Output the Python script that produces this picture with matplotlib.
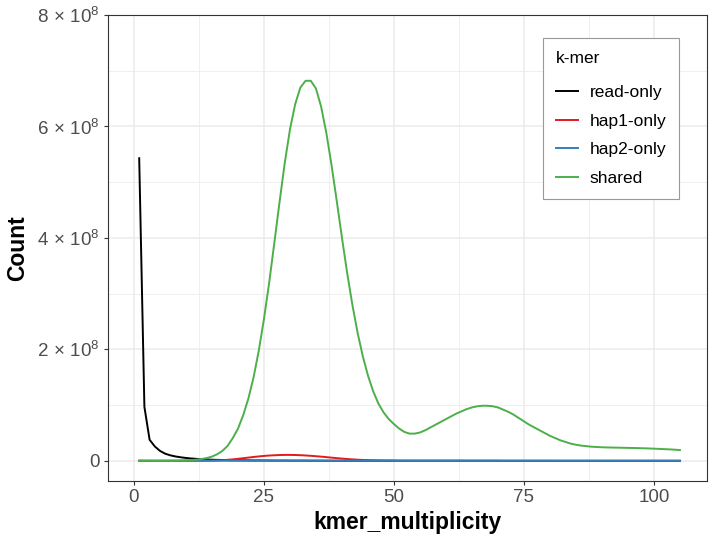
import numpy as np
import matplotlib
matplotlib.use("Agg")
import matplotlib.pyplot as plt
from matplotlib.ticker import MultipleLocator

plt.rcParams['font.family'] = ['Liberation Sans', 'DejaVu Sans']
plt.rcParams['mathtext.fontset'] = 'custom'
plt.rcParams['mathtext.rm'] = 'Liberation Sans'
plt.rcParams['mathtext.it'] = 'Liberation Sans:italic'
plt.rcParams['mathtext.bf'] = 'Liberation Sans:bold'

# k-mer multiplicity 1..105, counts in millions
multiplicity = np.arange(1, 106)

read_only = [
    543, 97, 38, 26, 18, 13, 10, 8, 6.5, 5.3,
    4.4, 3.7, 3.1, 2.6, 2.2, 1.9, 1.7, 1.5, 1.3, 1.2,
    1.1, 1.0, 0.9, 0.9, 0.8, 0.8, 0.7, 0.7, 0.7, 0.6,
    0.6, 0.6, 0.6, 0.5, 0.5, 0.5, 0.5, 0.5, 0.4, 0.4,
    0.4, 0.4, 0.4, 0.4, 0.4, 0.4, 0.4, 0.4, 0.4, 0.4,
    0.3, 0.3, 0.3, 0.3, 0.3, 0.3, 0.3, 0.3, 0.3, 0.3,
    0.3, 0.3, 0.3, 0.3, 0.3, 0.3, 0.3, 0.3, 0.3, 0.3,
    0.2, 0.2, 0.2, 0.2, 0.2, 0.2, 0.2, 0.2, 0.2, 0.2,
    0.2, 0.2, 0.2, 0.2, 0.2, 0.2, 0.2, 0.2, 0.2, 0.2,
    0.2, 0.2, 0.2, 0.2, 0.2, 0.2, 0.2, 0.2, 0.2, 0.2,
    0.2, 0.2, 0.2, 0.2, 0.2,
]

hap1_only = [
    0.3, 0.3, 0.3, 0.3, 0.3, 0.3, 0.3, 0.3, 0.3, 0.4,
    0.4, 0.5, 0.5, 0.6, 0.8, 1.0, 1.4, 2.0, 2.8, 3.8,
    4.9, 6.0, 7.1, 8.1, 9.0, 9.7, 10.2, 10.6, 10.8, 10.8,
    10.6, 10.3, 9.8, 9.2, 8.5, 7.7, 6.8, 5.9, 5.0, 4.2,
    3.4, 2.8, 2.2, 1.8, 1.4, 1.1, 0.9, 0.7, 0.6, 0.5,
    0.5, 0.5, 0.4, 0.4, 0.4, 0.4, 0.4, 0.4, 0.4, 0.4,
    0.4, 0.4, 0.4, 0.3, 0.3, 0.3, 0.3, 0.3, 0.3, 0.3,
    0.3, 0.3, 0.3, 0.3, 0.3, 0.3, 0.3, 0.3, 0.3, 0.3,
    0.2, 0.2, 0.2, 0.2, 0.2, 0.2, 0.2, 0.2, 0.2, 0.2,
    0.2, 0.2, 0.2, 0.2, 0.2, 0.2, 0.2, 0.2, 0.2, 0.2,
    0.2, 0.2, 0.2, 0.2, 0.2,
]

hap2_only = [
    0.3, 0.3, 0.3, 0.3, 0.3, 0.3, 0.3, 0.3, 0.3, 0.3,
    0.3, 0.3, 0.3, 0.3, 0.3, 0.3, 0.3, 0.3, 0.3, 0.3,
    0.3, 0.3, 0.3, 0.3, 0.3, 0.3, 0.3, 0.3, 0.3, 0.3,
    0.3, 0.3, 0.3, 0.3, 0.3, 0.3, 0.3, 0.3, 0.3, 0.3,
    0.3, 0.3, 0.3, 0.3, 0.3, 0.3, 0.3, 0.3, 0.3, 0.3,
    0.2, 0.2, 0.2, 0.2, 0.2, 0.2, 0.2, 0.2, 0.2, 0.2,
    0.2, 0.2, 0.2, 0.2, 0.2, 0.2, 0.2, 0.2, 0.2, 0.2,
    0.2, 0.2, 0.2, 0.2, 0.2, 0.2, 0.2, 0.2, 0.2, 0.2,
    0.2, 0.2, 0.2, 0.2, 0.2, 0.2, 0.2, 0.2, 0.2, 0.2,
    0.2, 0.2, 0.2, 0.2, 0.2, 0.2, 0.2, 0.2, 0.2, 0.2,
    0.2, 0.2, 0.2, 0.2, 0.2,
]

shared = [
    0.5, 0.4, 0.3, 0.3, 0.3, 0.3, 0.4, 0.5, 0.7, 1.0,
    1.5, 2.3, 3.5, 5.2, 7.8, 12, 18, 27, 41, 58,
    82, 112, 150, 198, 255, 320, 392, 465, 535, 595,
    640, 670, 682, 682, 668, 635, 588, 530, 466, 400,
    337, 280, 230, 188, 153, 125, 103, 87, 75, 66,
    58, 52, 49, 49, 51, 55, 60, 65, 70, 75,
    80, 85, 89, 93, 96, 98, 99, 99, 98, 96,
    92, 88, 83, 77, 71, 65, 60, 55, 50, 45,
    41, 37, 34, 31, 29, 27.5, 26.5, 25.5, 25, 24.5,
    24.2, 24, 23.8, 23.6, 23.4, 23.2, 23, 22.7, 22.4, 22,
    21.6, 21.2, 20.7, 20.2, 19.5,
]

series = ["read-only", "hap1-only", "hap2-only", "shared"]
colors = ["#000000", "#E41A1C", "#377EB8", "#4DAF4A"]
yticks = [0, 2e8, 4e8, 6e8, 8e8]
ytick_labels = ["0", r"$2\,\times\,10^{8}$", r"$4\,\times\,10^{8}$",
                r"$6\,\times\,10^{8}$", r"$8\,\times\,10^{8}$"]
xticks = [0, 25, 50, 75, 100]

fig = plt.figure(figsize=(7.14, 5.43), dpi=100)
ax = fig.add_axes([108 / 714, 1 - 481 / 543, 599 / 714, 466 / 543])

for name, vals, col in zip(series, [read_only, hap1_only, hap2_only, shared], colors):
    ax.plot(multiplicity, np.array(vals) * 1e6, color=col, lw=1.4, label=name)

ax.set_xlim(-5, 110.2)
ax.set_ylim(-0.36e8, 8e8)
ax.set_xticks(xticks)
ax.set_yticks(yticks)
ax.set_yticklabels(ytick_labels)
ax.xaxis.set_minor_locator(MultipleLocator(12.5))
ax.yaxis.set_minor_locator(MultipleLocator(1e8))

ax.grid(which="major", color="#EBEBEB", lw=1.1)
ax.grid(which="minor", color="#EBEBEB", lw=0.55)
ax.set_axisbelow(True)
ax.tick_params(which="minor", length=0)
ax.tick_params(which="major", length=3, width=0.8, color="#333333",
               labelcolor="#4D4D4D", labelsize=13.5, pad=3)
for sp in ax.spines.values():
    sp.set_color("#333333")
    sp.set_linewidth(0.8)

ax.set_xlabel("kmer_multiplicity", fontsize=16.5, fontweight="bold", labelpad=3)
ax.set_ylabel("Count", fontsize=16.5, fontweight="bold")
ax.yaxis.set_label_coords((29 - 108) / 599, 0.5)

leg = ax.legend(title="k-mer", loc="upper left",
                bbox_to_anchor=(542.7 / 714, 1 - 38.3 / 543),
                bbox_transform=fig.transFigure, borderaxespad=0,
                fontsize=12.5, title_fontsize=12.5, fancybox=False,
                edgecolor="#999999", framealpha=1, borderpad=0.75,
                labelspacing=0.77, handlelength=1.3, handletextpad=0.65,
                alignment="left")
leg.get_frame().set_linewidth(0.8)
# a bit more room between the legend title and the entries
leg._legend_box.sep = 13.4

fig.savefig("out.png", dpi=100)
